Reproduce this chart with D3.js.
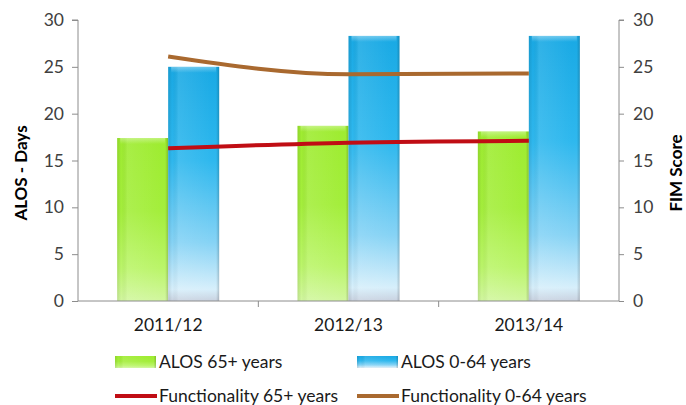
<!DOCTYPE html>
<html>
<head>
<meta charset="utf-8">
<script src="https://cdn.jsdelivr.net/npm/d3@7"></script>
<style>
  html, body { margin: 0; padding: 0; background: #fff; }
  svg { display: block; }
  text { font-family: Lato, "Open Sans", sans-serif; }
</style>
</head>
<body>
<div id="chart"></div>
<script>
const categories = ["2011/12", "2012/13", "2013/14"];
const alos65 = [17.4, 18.7, 18.1];
const alos064 = [25.0, 28.3, 28.3];
const func65 = [16.3, 16.9, 17.1];
const func064 = [26.1, 24.2, 24.3];
const leftTicks = [0, 5, 10, 15, 20, 25, 30];
const rightTicks = [0, 5, 10, 15, 20, 25, 30];
const barSeries = ["ALOS 65+ years", "ALOS 0-64 years"];
const lineSeries = ["Functionality 65+ years", "Functionality 0-64 years"];

const W = 686, H = 405;
const m = { left: 78, right: 67, top: 20, bottom: 104 };
const svg = d3.select("#chart").append("svg").attr("width", W).attr("height", H);
const defs = svg.append("defs");

function vgrad(id, stops) {
  const g = defs.append("linearGradient").attr("id", id)
    .attr("x1", 0).attr("y1", 0).attr("x2", 0).attr("y2", 1);
  stops.forEach(s => g.append("stop").attr("offset", s[0]).attr("stop-color", s[1]).attr("stop-opacity", s[2] == null ? 1 : s[2]));
}
function hgrad(id, stops) {
  const g = defs.append("linearGradient").attr("id", id)
    .attr("x1", 0).attr("y1", 0).attr("x2", 1).attr("y2", 0);
  stops.forEach(s => g.append("stop").attr("offset", s[0]).attr("stop-color", s[1]).attr("stop-opacity", s[2] == null ? 1 : s[2]));
}
vgrad("gGreen", [[0, "#9eec30"], [0.45, "#a4ee3c"], [0.8, "#bbf56a"], [1, "#d2f7a0"]]);
vgrad("gBlue", [[0, "#19a9e4"], [0.4, "#2fb8ee"], [0.75, "#86d3f5"], [0.95, "#d7effb"], [1, "#c9d2e0"]]);
hgrad("gEdge", [[0, "#000", 0.10], [0.08, "#000", 0.0], [0.2, "#fff", 0.10], [0.85, "#fff", 0.0], [0.94, "#000", 0.0], [1, "#000", 0.18]]);
vgrad("gTop", [[0, "#fff", 0.35], [1, "#fff", 0]]);

const x = d3.scaleBand().domain(categories).range([m.left, W - m.right]).paddingInner(0).paddingOuter(0);
const y = d3.scaleLinear().domain([0, 30]).range([H - m.bottom, m.top]);
const y2 = d3.scaleLinear().domain([0, 30]).range([H - m.bottom, m.top]);
const barW = 51;
const xs = d3.scaleBand().domain(barSeries).range([0, barW * 2]);

// bars
const fills = ["url(#gGreen)", "url(#gBlue)"];
const vals = [alos65, alos064];
vals.forEach((arr, si) => {
  const g = svg.append("g");
  categories.forEach((c, i) => {
    const bx = x(c) + x.bandwidth() / 2 - barW + xs(barSeries[si]);
    const by = y(arr[i]);
    const bh = y(0) - by;
    g.append("rect").attr("x", bx).attr("y", by).attr("width", xs.bandwidth()).attr("height", bh).attr("fill", fills[si]);
    g.append("rect").attr("x", bx).attr("y", by).attr("width", xs.bandwidth()).attr("height", bh).attr("fill", "url(#gEdge)");
    g.append("rect").attr("x", bx + 3).attr("y", by).attr("width", xs.bandwidth() - 6).attr("height", 6).attr("fill", "url(#gTop)");
  });
});

// axes
const axisColor = "#8c8c8c";
const labelColor = "#404040";
const fontSize = "17.5px";
const gl = svg.append("g").attr("transform", `translate(${m.left},0)`)
  .call(d3.axisLeft(y).tickValues(leftTicks).tickSize(6).tickPadding(8));
const gr = svg.append("g").attr("transform", `translate(${W - m.right},0)`)
  .call(d3.axisRight(y2).tickValues(rightTicks).tickSize(5).tickPadding(9));
const gb = svg.append("g").attr("transform", `translate(0,${H - m.bottom})`)
  .call(d3.axisBottom(x).tickSize(0).tickPadding(18));
[gl, gr, gb].forEach(g => {
  g.select(".domain").attr("stroke", axisColor);
  g.selectAll(".tick line").attr("stroke", axisColor);
  g.selectAll("text").attr("fill", labelColor).style("font-size", fontSize).style("font-family", "Lato, 'Open Sans', sans-serif");
});
gl.select(".domain").attr("d", `M-6,${y(30)}H0V${y(0)}H0`);
gr.select(".domain").attr("d", `M5,${y2(30)}H0V${y2(0)}H0`);
gb.select(".domain").attr("d", `M${m.left},0H${W - m.right}`);
gb.selectAll("text").attr("fill", "#1a1a1a");
// category separators
svg.append("g").selectAll("line").data(categories.slice(1)).join("line")
  .attr("x1", d => x(d)).attr("x2", d => x(d))
  .attr("y1", y(0)).attr("y2", y(0) + 6).attr("stroke", axisColor);

// lines
const line = d3.line()
  .x((d, i) => x(categories[i]) + x.bandwidth() / 2)
  .y(d => y2(d))
  .curve(d3.curveMonotoneX);
const lineColors = ["#c00d14", "#a9692f"];
[func65, func064].forEach((arr, i) => {
  svg.append("path").datum(arr).attr("d", line).attr("fill", "none")
    .attr("stroke", lineColors[i]).attr("stroke-width", 4).attr("stroke-linecap", "butt");
});

// axis titles
svg.append("text").attr("transform", `translate(27,173) rotate(-90)`)
  .attr("text-anchor", "middle").style("font-size", "17px").style("font-weight", "bold").attr("fill", "#000")
  .text("ALOS - Days");
svg.append("text").attr("transform", `translate(682,173) rotate(-90)`)
  .attr("text-anchor", "middle").style("font-size", "17px").style("font-weight", "bold").attr("fill", "#000")
  .text("FIM Score");

// legend
const legend = svg.append("g");
const legItems = [
  { name: barSeries[0], type: "bar", fill: "url(#gGreen)", x: 115, y: 362 },
  { name: barSeries[1], type: "bar", fill: "url(#gBlue)", x: 357, y: 362 },
  { name: lineSeries[0], type: "line", color: lineColors[0], x: 115, y: 396 },
  { name: lineSeries[1], type: "line", color: lineColors[1], x: 357, y: 396 }
];
legItems.forEach(it => {
  if (it.type === "bar") {
    legend.append("rect").attr("x", it.x).attr("y", it.y - 6).attr("width", 41).attr("height", 12).attr("fill", it.fill);
    legend.append("rect").attr("x", it.x).attr("y", it.y - 6).attr("width", 41).attr("height", 12).attr("fill", "url(#gEdge)");
  } else {
    legend.append("line").attr("x1", it.x).attr("x2", it.x + 42).attr("y1", it.y).attr("y2", it.y)
      .attr("stroke", it.color).attr("stroke-width", 4);
  }
  legend.append("text").attr("x", it.x + 44).attr("y", it.y).attr("dy", "0.35em")
    .style("font-size", fontSize).attr("fill", "#1a1a1a").text(it.name);
});
</script>
</body>
</html>
